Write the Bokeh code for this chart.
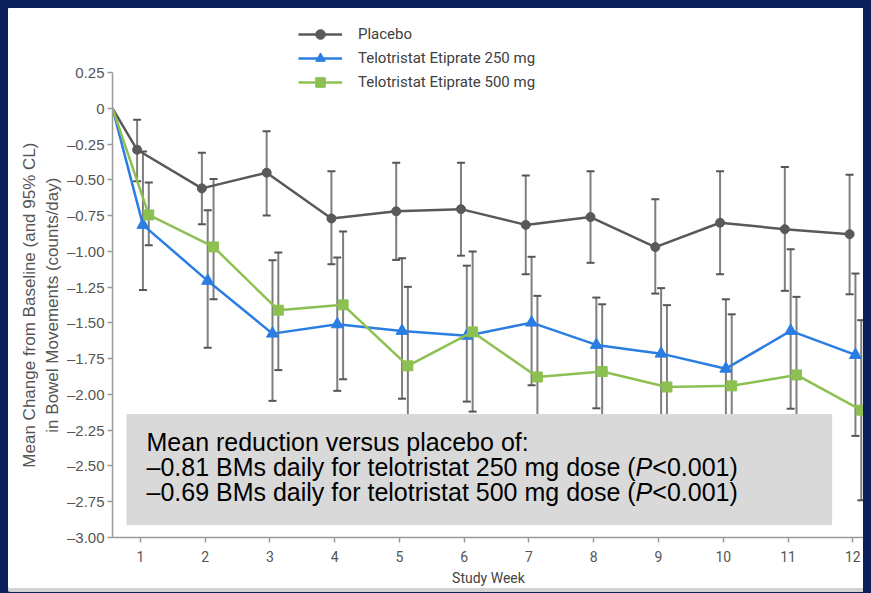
import math
from bokeh.plotting import figure
from bokeh.models import (ColumnDataSource, Whisker, TeeHead, FixedTicker, Legend,
                          LegendItem, BoxAnnotation, Label, Range1d, Title)
from bokeh.embed import file_html
from bokeh.resources import INLINE

# ---------------- data ----------------
weeks = [0, 1, 2, 3, 4, 5, 6, 7, 8, 9, 10, 11, 12]

placebo_mean = [0, -0.29, -0.56, -0.45, -0.77, -0.72, -0.705, -0.815, -0.76, -0.97, -0.80, -0.845, -0.88]
placebo_upper = [-0.08, -0.31, -0.16, -0.44, -0.38, -0.38, -0.47, -0.44, -0.635, -0.44, -0.41, -0.465]
placebo_lower = [-0.51, -0.81, -0.75, -1.09, -1.06, -1.03, -1.16, -1.08, -1.295, -1.16, -1.276, -1.30]

t250_mean = [0, -0.815, -1.206, -1.575, -1.51, -1.556, -1.59, -1.498, -1.654, -1.715, -1.82, -1.556, -1.724]
t250_upper = [-0.302, -0.712, -1.062, -1.043, -1.048, -1.10, -1.038, -1.323, -1.257, -1.335, -0.985, -1.155]
t250_lower = [-1.27, -1.673, -2.045, -1.975, -2.03, -2.05, -1.936, -2.097, -2.17, -2.30, -2.10, -2.29]

t500_mean = [0, -0.745, -0.969, -1.411, -1.374, -1.80, -1.563, -1.878, -1.84, -1.948, -1.94, -1.864, -2.11]
t500_upper = [-0.519, -0.495, -1.008, -0.861, -1.248, -1.001, -1.311, -1.37, -1.376, -1.44, -1.318, -1.481]
t500_lower = [-0.957, -1.334, -1.83, -1.894, -2.35, -2.12, -2.44, -2.31, -2.52, -2.44, -2.41, -2.74]

series_names = ["Placebo", "Telotristat Etiprate 250 mg", "Telotristat Etiprate 500 mg"]

y_tick_values = [0.25, 0, -0.25, -0.5, -0.75, -1.0, -1.25, -1.5, -1.75, -2.0, -2.25, -2.5, -2.75, -3.0]
y_tick_labels = ["0.25", "0", "\u20130.25", "\u20130.50", "\u20130.75", "\u20131.00", "\u20131.25",
                 "\u20131.50", "\u20131.75", "\u20132.00", "\u20132.25", "\u20132.50", "\u20132.75", "\u20133.00"]
x_tick_values = [1, 2, 3, 4, 5, 6, 7, 8, 9, 10, 11, 12]

note_line1 = "Mean reduction versus placebo of:"
note_250 = ["\u20130.81 BMs daily for telotristat 250 mg dose (", "P", "<0.001)"]
note_500 = ["\u20130.69 BMs daily for telotristat 500 mg dose (", "P", "<0.001)"]

y_title_1 = "Mean Change from Baseline (and 95% CL)"
y_title_2 = "in Bowel Movements (counts/day)"
x_title = "Study Week"

# ---------------- layout / style ----------------
X_START, X_END = 0.57, 12.18
Y_AXIS_MIN, Y_AXIS_MAX = -3.0, 0.25
Y_TOP = 0.6136            # extra room above the axis for the legend
PX_PER_WEEK = 64.8
PX_PER_UNIT = 143.0
FRAME_W = round((X_END - X_START) * PX_PER_WEEK)
FRAME_H = round((Y_TOP - Y_AXIS_MIN) * PX_PER_UNIT)

COLORS = ["#595959", "#2a7de1", "#8cc152"]
OFFSETS = [-0.05, 0.04, 0.13]
MARKERS = ["circle", "triangle", "square"]
MSIZES = [9, 12, 10]
NARROW = "Roboto"

p = figure(frame_width=FRAME_W, frame_height=FRAME_H,
           x_range=Range1d(X_START, X_END), y_range=Range1d(Y_AXIS_MIN, Y_TOP),
           output_backend="svg", toolbar_location=None,
           min_border_left=104, min_border_top=12, min_border_right=2, min_border_bottom=48,
           background_fill_color="white", border_fill_color="white")
p.outline_line_color = None
p.xgrid.visible = False
p.ygrid.visible = False
p.styles = {"background-color": "white", "box-shadow": "0 0 0 4px #d2d2d2", "border-radius": "3px"}

AXIS_COLOR = "#9a9a9a"
for ax in (p.xaxis[0], p.yaxis[0]):
    ax.axis_line_color = AXIS_COLOR
    ax.axis_line_width = 1.5
    ax.major_tick_line_color = AXIS_COLOR
    ax.major_tick_line_width = 1.5
    ax.major_tick_in = 0
    ax.major_tick_out = 5
    ax.minor_tick_line_color = None
    ax.major_label_text_color = "#555555"

p.yaxis[0].bounds = (Y_AXIS_MIN, Y_AXIS_MAX)
p.yaxis.ticker = FixedTicker(ticks=y_tick_values)
p.yaxis.major_label_overrides = {v: s for v, s in zip(y_tick_values, y_tick_labels)}
p.yaxis.major_label_text_font = "Liberation Sans"
p.yaxis.major_label_text_font_size = "15px"
p.yaxis.major_label_standoff = 3

# y title: two vertical lines, centred on the axis span (not the taller frame)
TITLE_FS = 17
axis_mid_px = (Y_AXIS_MAX - Y_AXIS_MIN) / 2 * PX_PER_UNIT
title_em = {y_title_1: 19.119, y_title_2: 15.005}   # Arial/Liberation widths in em
for txt, sto in ((y_title_2, 4), (y_title_1, 0)):
    off = axis_mid_px - title_em[txt] * TITLE_FS / 2
    p.add_layout(Title(text=txt, align="left", offset=off, standoff=sto,
                       text_font="Liberation Sans", text_font_style="normal",
                       text_font_size=f"{TITLE_FS}px", text_color="#555555"), "left")

p.xaxis.ticker = FixedTicker(ticks=x_tick_values)
p.xaxis.major_label_text_font = NARROW
p.xaxis.major_label_text_font_size = "14px"
p.xaxis.major_label_standoff = 8
p.xaxis.axis_label = x_title
p.xaxis.axis_label_text_font = NARROW
p.xaxis.axis_label_text_font_style = "normal"
p.xaxis.axis_label_text_font_size = "14px"
p.xaxis.axis_label_text_color = "#444444"
p.xaxis.axis_label_standoff = 5

means = [placebo_mean, t250_mean, t500_mean]
uppers = [placebo_upper, t250_upper, t500_upper]
lowers = [placebo_lower, t250_lower, t500_lower]

for i in range(3):
    xs = [X_START if w == 0 else w + OFFSETS[i] for w in weeks]
    esrc = ColumnDataSource(dict(x=xs[1:], upper=uppers[i], lower=lowers[i]))
    wh = Whisker(source=esrc, base="x", upper="upper", lower="lower", dimension="height",
                 line_color="#7f7f7f", line_width=2,
                 upper_head=TeeHead(size=8, line_color="#555555", line_width=2),
                 lower_head=TeeHead(size=8, line_color="#555555", line_width=2))
    p.add_layout(wh)

legend_items = []
for i in range(3):
    xs = [X_START if w == 0 else w + OFFSETS[i] for w in weeks]
    src = ColumnDataSource(dict(x=xs, y=means[i]))
    lr = p.line("x", "y", source=src, line_color=COLORS[i], line_width=2.5)
    msrc = ColumnDataSource(dict(x=xs[1:], y=means[i][1:]))
    sr = p.scatter("x", "y", source=msrc, marker=MARKERS[i], size=MSIZES[i],
                   fill_color=COLORS[i], line_color=COLORS[i])
    legend_items.append(LegendItem(label=series_names[i], renderers=[lr, sr]))

legend = Legend(items=legend_items, location=(186, 443), orientation="vertical",
                glyph_width=44, glyph_height=24, label_height=24, spacing=0,
                padding=0, margin=0, label_standoff=16,
                border_line_color=None, background_fill_alpha=0,
                label_text_font=NARROW, label_text_font_size="15px",
                label_text_color="#404040")
p.add_layout(legend)

# annotation box
box = BoxAnnotation(left=0.786, right=11.68, top=-2.136, bottom=-2.913,
                    fill_color="#d9d9d9", fill_alpha=1.0, line_color=None)
p.add_layout(box)

NOTE_FS = 25
NOTE_X = 1.095
lbl_kw = dict(text_font="Liberation Sans", text_font_size=f"{NOTE_FS}px",
              text_color="black", text_baseline="middle", text_align="left")
p.add_layout(Label(x=NOTE_X, y=-2.335, text=note_line1, **lbl_kw))
# widths in Arial/Liberation em units
w_part1 = 19.564 * NOTE_FS
w_p = 0.667 * NOTE_FS
for parts, yv in ((note_250, -2.51), (note_500, -2.68)):
    p.add_layout(Label(x=NOTE_X, y=yv, text=parts[0], **lbl_kw))
    kw_i = dict(lbl_kw)
    kw_i["text_font_style"] = "italic"
    p.add_layout(Label(x=NOTE_X, y=yv, x_offset=w_part1, text=parts[1], **kw_i))
    p.add_layout(Label(x=NOTE_X, y=yv, x_offset=w_part1 + w_p, text=parts[2], **lbl_kw))

html = file_html(p, INLINE)
html = html.replace(
    "</head>",
    "<style>html, body { background-color: #0b1f5c; overflow: hidden; } "
    "body { margin: 8px 8px 0 8px; }</style></head>", 1)
open("out.html", "w").write(html)
